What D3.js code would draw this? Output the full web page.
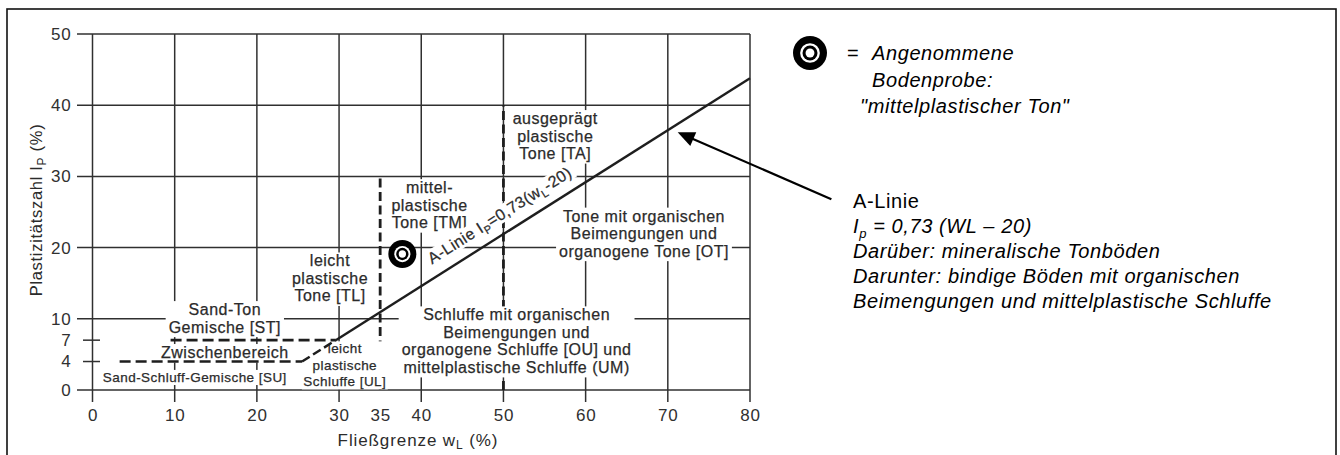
<!DOCTYPE html>
<html>
<head>
<meta charset="utf-8">
<script src="https://cdn.jsdelivr.net/npm/d3@7"></script>
<style>
  body { margin: 0; background: #fff; }
  svg { display: block; font-family: Arial, "Liberation Sans", sans-serif; }
</style>
</head>
<body>
<svg id="chart" width="1340" height="455"></svg>
<script>
// Plasticity chart data (DIN 18196)
const xTicks = [0, 10, 20, 30, 35, 40, 50, 60, 70, 80];
const yTicks = [0, 4, 7, 10, 20, 30, 40, 50];
const gridWL = [0, 10, 20, 30, 40, 50, 60, 70, 80];
const gridIP = [0, 10, 20, 30, 40, 50];
const stubIP = [4, 7];

// A-line, solid part and dashed part
const aLineWL = [29.6, 80];
const aLineIP = [7, 43.8];
const aDashWL = [25.5, 29.6];
const aDashIP = [4, 7];
const aLabelWL = 42.1;
const aLabelIP = 16.2;

// dashed boundaries
const vBoundWL = [35, 50];
const vBoundTop = [30, 40];
const hBoundIP = [7, 4];
const hBoundFrom = [9.5, 3.3];
const hBoundTo = [29.6, 25.5];

// sample point
const sampleWL = [37.7];
const sampleIP = [19.1];

// zone labels
const zoneText = [
    ['ausgeprägt', 'plastische', 'Tone [TA]'],
    ['mittel-', 'plastische', 'Tone [TM]'],
    ['Tone mit organischen', 'Beimengungen und', 'organogene Tone [OT]'],
    ['leicht', 'plastische', 'Tone [TL]'],
    ['Sand-Ton', 'Gemische [ST]'],
    ['Zwischenbereich'],
    ['Sand-Schluff-Gemische [SU]'],
    ['leicht', 'plastische', 'Schluffe [UL]'],
    ['Schluffe mit organischen', 'Beimengungen und', 'organogene Schluffe [OU] und', 'mittelplastische Schluffe (UM)']
];
const zoneWL = [56.3, 41.0, 67.1, 28.9, 16.1, 16.1, 12.45, 30.7, 51.6];
const zoneIP = [35.7, 26.0, 22.0, 15.7, 10.1, 5.3, 1.8, 3.5, 6.9];
const zoneSmall = [false, false, false, false, false, false, true, true, false];

// annotations on the right
const legendLines = ['Angenommene', 'Bodenprobe:', '"mittelplastischer Ton"'];
const noteLines = ['Darüber: mineralische Tonböden', 'Darunter: bindige Böden mit organischen', 'Beimengungen und mittelplastische Schluffe'];
const arrowTip = [71.2, 36.2];
const arrowTail = [89.9, 26.8];

const svg = d3.select('#chart');
const x = d3.scaleLinear().domain([0, 80]).range([92.5, 750]);
const y = d3.scaleLinear().domain([0, 50]).range([390, 34]);

const ink = '#2b2b2b';
const gridColor = '#303030';

// outer frame
svg.append('rect')
    .attr('x', 7).attr('y', 9).attr('width', 1329).attr('height', 470)
    .attr('fill', 'none').attr('stroke', '#111').attr('stroke-width', 1.6);

const gridLayer = svg.append('g');
const vDashLayer = svg.append('g');
const maskLayer = svg.append('g');
const textLayer = svg.append('g');
const lineLayer = svg.append('g');
const markLayer = svg.append('g');

// grid
gridLayer.selectAll('.hgrid').data(gridIP).enter().append('line')
    .attr('x1', x(0) - 15.5).attr('x2', x(80))
    .attr('y1', d => y(d)).attr('y2', d => y(d))
    .attr('stroke', gridColor).attr('stroke-width', 1.5);
gridLayer.selectAll('.stub').data(stubIP).enter().append('line')
    .attr('x1', x(0) - 9.5).attr('x2', x(0) + 7.5)
    .attr('y1', d => y(d)).attr('y2', d => y(d))
    .attr('stroke', gridColor).attr('stroke-width', 1.5);
gridLayer.selectAll('.vgrid').data(gridWL).enter().append('line')
    .attr('x1', d => x(d)).attr('x2', d => x(d))
    .attr('y1', y(50)).attr('y2', y(0) + 12)
    .attr('stroke', gridColor).attr('stroke-width', 1.5);

// axes (labels only)
const xAxis = svg.append('g')
    .attr('transform', 'translate(0,' + y(0) + ')')
    .call(d3.axisBottom(x).tickValues(xTicks).tickSize(0).tickPadding(19));
const yAxis = svg.append('g')
    .attr('transform', 'translate(' + x(0) + ',0)')
    .call(d3.axisLeft(y).tickValues(yTicks).tickSize(0).tickPadding(21));
[xAxis, yAxis].forEach(a => {
    a.select('.domain').remove();
    a.selectAll('text')
        .attr('fill', gridColor)
        .style('font-size', '17px')
        .style('font-family', 'Arial, "Liberation Sans", sans-serif')
        .style('letter-spacing', '0.8px');
});

// axis titles
const xTitle = svg.append('text')
    .attr('x', 418).attr('y', 446)
    .attr('text-anchor', 'middle')
    .attr('fill', ink).style('font-size', '17px').style('letter-spacing', '0.9px');
xTitle.append('tspan').text('Fließgrenze w');
xTitle.append('tspan').attr('dy', 3).style('font-size', '12px').text('L');
xTitle.append('tspan').attr('dy', -3).text(' (%)');

const yTitle = svg.append('text')
    .attr('transform', 'translate(42,210) rotate(-90)')
    .attr('text-anchor', 'middle')
    .attr('fill', ink).style('font-size', '16.5px').style('letter-spacing', '0.7px');
yTitle.append('tspan').text('Plastizitätszahl I');
yTitle.append('tspan').attr('dy', 4).style('font-size', '12px').text('P');
yTitle.append('tspan').attr('dy', -4).text(' (%)');

// vertical dashed boundaries (hidden behind labels, like the original)
vDashLayer.selectAll('line').data(vBoundWL).enter().append('line')
    .attr('x1', d => x(d)).attr('x2', d => x(d))
    .attr('y1', y(0)).attr('y2', (d, i) => y(vBoundTop[i]))
    .attr('stroke', '#1e1e1e').attr('stroke-width', 2.8)
    .attr('stroke-dasharray', '9,4.5');

// zone labels with white backgrounds that break the grid
zoneText.forEach((lines, i) => {
    const fs = zoneSmall[i] ? 13.5 : 16;
    const lh = zoneSmall[i] ? 16.5 : 17.5;
    const cx = x(zoneWL[i]);
    const cy = y(zoneIP[i]);
    const t = textLayer.append('text')
        .attr('text-anchor', 'middle')
        .attr('fill', ink)
        .attr('stroke', ink).attr('stroke-width', 0.25)
        .style('font-size', fs + 'px')
        .style('letter-spacing', zoneSmall[i] ? '0.45px' : '0.5px');
    const base = [];
    lines.forEach((s, j) => {
        const b = cy + (j - (lines.length - 1) / 2) * lh + fs * 0.36;
        base.push(b);
        t.append('tspan').attr('x', cx).attr('y', b).text(s);
    });
    const bb = t.node().getBBox();
    const padX = zoneSmall[i] ? 1.5 : 3;
    const top = base[0] - fs * 0.75 - 2;
    const bottom = base[base.length - 1] + fs * 0.22 + (zoneSmall[i] ? 0 : 1);
    maskLayer.append('rect')
        .attr('x', bb.x - padX).attr('width', bb.width + 2 * padX)
        .attr('y', top).attr('height', bottom - top)
        .attr('fill', '#fff');
});

// horizontal dashed boundaries
lineLayer.selectAll('.hb').data(hBoundIP).enter().append('line')
    .attr('x1', (d, i) => x(hBoundFrom[i])).attr('x2', (d, i) => x(hBoundTo[i]))
    .attr('y1', d => y(d)).attr('y2', d => y(d))
    .attr('stroke', '#1e1e1e').attr('stroke-width', 2.6)
    .attr('stroke-dasharray', '11,5');

// A-line
const line = d3.line().x(d => x(d[0])).y(d => y(d[1]));
lineLayer.append('path')
    .attr('d', line(aDashWL.map((w, i) => [w, aDashIP[i]])))
    .attr('fill', 'none').attr('stroke', '#1e1e1e').attr('stroke-width', 2.5)
    .attr('stroke-dasharray', '9,4');
lineLayer.append('path')
    .attr('d', line(aLineWL.map((w, i) => [w, aLineIP[i]])))
    .attr('fill', 'none').attr('stroke', '#1e1e1e').attr('stroke-width', 2.4);

// A-line label, rotated along the line
const ang = Math.atan2(y(aLineIP[1]) - y(aLineIP[0]), x(aLineWL[1]) - x(aLineWL[0])) * 180 / Math.PI;
const aG = lineLayer.append('g')
    .attr('transform', 'translate(' + x(aLabelWL) + ',' + y(aLabelIP) + ') rotate(' + ang + ') translate(0,-12)');
const aRect = aG.append('rect').attr('fill', '#fff');
const aText = aG.append('text')
    .attr('fill', ink).attr('stroke', ink).attr('stroke-width', 0.25)
    .style('font-size', '16px').style('letter-spacing', '0.4px');
aText.append('tspan').text('A-Linie I');
aText.append('tspan').attr('dy', 4).style('font-size', '11px').text('P');
aText.append('tspan').attr('dy', -4).text('=0,73(w');
aText.append('tspan').attr('dy', 4).style('font-size', '11px').text('L');
aText.append('tspan').attr('dy', -4).text('-20)');
const abb = aText.node().getBBox();
aRect.attr('x', abb.x - 3).attr('width', abb.width + 6).attr('y', -14).attr('height', 17);

// sample marker
function drawSample(g, cx, cy, r) {
    const radii = [r, r * 0.58, r * 0.44, r * 0.26];
    const fills = ['#000', '#fff', '#000', '#fff'];
    radii.forEach((rr, k) => {
        g.append('circle').attr('cx', cx).attr('cy', cy).attr('r', rr).attr('fill', fills[k]);
    });
}
sampleWL.forEach((w, i) => drawSample(markLayer, x(w), y(sampleIP[i]), 14));

// legend for the sample
drawSample(markLayer, 810, 53, 17);
markLayer.append('text').attr('x', 847).attr('y', 60)
    .style('font-size', '20px').attr('fill', '#000').text('=');
legendLines.forEach((s, i) => {
    markLayer.append('text')
        .attr('x', i === 2 ? 860 : 872).attr('y', 60 + i * 26.5)
        .style('font-size', '20px').style('font-style', 'italic').style('letter-spacing', '0.6px')
        .attr('fill', '#000').text(s);
});

// arrow to A-line
const tip = [x(arrowTip[0]), y(arrowTip[1])];
const tail = [x(arrowTail[0]), y(arrowTail[1])];
const dx = tip[0] - tail[0], dy = tip[1] - tail[1];
const len = Math.sqrt(dx * dx + dy * dy);
const ux = dx / len, uy = dy / len;
const headL = 17, headW = 7.5;
markLayer.append('line')
    .attr('x1', tail[0]).attr('y1', tail[1])
    .attr('x2', tip[0] - ux * headL * 0.8).attr('y2', tip[1] - uy * headL * 0.8)
    .attr('stroke', '#000').attr('stroke-width', 2.2);
markLayer.append('path')
    .attr('d', 'M' + tip[0] + ',' + tip[1] +
        'L' + (tip[0] - ux * headL - uy * headW) + ',' + (tip[1] - uy * headL + ux * headW) +
        'L' + (tip[0] - ux * headL + uy * headW) + ',' + (tip[1] - uy * headL - ux * headW) + 'Z')
    .attr('fill', '#000');

// A-line note
markLayer.append('text').attr('x', 853).attr('y', 208)
    .style('font-size', '20px').style('letter-spacing', '0.6px').attr('fill', '#000').text('A-Linie');
const eq = markLayer.append('text').attr('x', 853).attr('y', 233)
    .style('font-size', '20px').style('font-style', 'italic').style('letter-spacing', '0.6px').attr('fill', '#000');
eq.append('tspan').text('I');
eq.append('tspan').attr('dy', 5).style('font-size', '13px').text('p');
eq.append('tspan').attr('dy', -5).text(' = 0,73 (WL \u2013 20)');
noteLines.forEach((s, i) => {
    markLayer.append('text')
        .attr('x', 853).attr('y', 258 + i * 25)
        .style('font-size', '20px').style('font-style', 'italic').style('letter-spacing', '0.6px')
        .attr('fill', '#000').text(s);
});
</script>
</body>
</html>
